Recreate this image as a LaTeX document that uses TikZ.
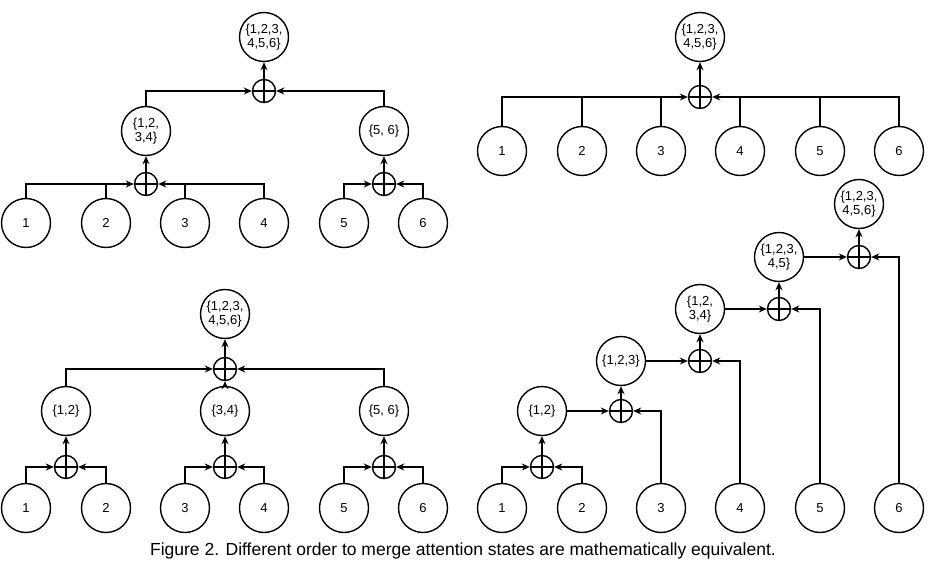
\documentclass[tikz,border=0pt]{standalone}
\usepackage{fontspec}
\setmainfont{Liberation Sans}
\usetikzlibrary{arrows.meta}
\begin{document}
\begin{tikzpicture}[x=1pt,y=-1pt,
  st/.style={circle,draw,line width=1.4pt,minimum size=49pt,inner sep=0pt,align=center,font=\fontsize{13}{14}\selectfont},
  pl/.style={circle,draw,line width=1.4pt,minimum size=23pt,inner sep=0pt,
    path picture={\draw[line width=1.4pt] (path picture bounding box.north)--(path picture bounding box.south) (path picture bounding box.west)--(path picture bounding box.east);}},
  arr/.style={-{Stealth[length=8pt,width=7pt]}},
  every path/.style={line width=1.4pt}]
\useasboundingbox (0,0) rectangle (945,575);
% Top-left
\foreach \n/\x in {1/26,2/106,3/185,4/264,5/344,6/423}{\node[st] (a\n) at (\x,223) {\n};}
\node[pl] (ap1) at (146,184) {};
\node[pl] (ap2) at (384,184) {};
\node[pl] (ap0) at (264,91) {};
\node[st] (a1234) at (146,131) {\{1,2,\\3,4\}};
\node[st] (a56) at (384,131) {\{5, 6\}};
\node[st] (aroot) at (264,37) {\{1,2,3,\\4,5,6\}};
\draw[arr] (a1.north) |- (ap1.west);
\draw[arr] (a4.north) |- (ap1.east);
\draw (a2.north) -- (a2.north |- ap1.center);
\draw (a3.north) -- (a3.north |- ap1.center);
\draw[arr] (a5.north) |- (ap2.west);
\draw[arr] (a6.north) |- (ap2.east);
\draw[arr] (ap1.north) -- (a1234.south);
\draw[arr] (ap2.north) -- (a56.south);
\draw[arr] (a1234.north) |- (ap0.west);
\draw[arr] (a56.north) |- (ap0.east);
\draw[arr] (ap0.north) -- (aroot.south);
% Top-right
\foreach \n/\x in {1/502,2/582,3/661,4/740,5/820,6/899}{\node[st] (b\n) at (\x,151) {\n};}
\node[pl] (bp) at (700,97) {};
\node[st] (broot) at (700,37) {\{1,2,3,\\4,5,6\}};
\draw[arr] (b1.north) |- (bp.west);
\draw[arr] (b6.north) |- (bp.east);
\foreach \n in {2,3,4,5}{\draw (b\n.north) -- (b\n.north |- bp.center);}
\draw[arr] (bp.north) -- (broot.south);
% Bottom-left
\foreach \n/\x in {1/26,2/106,3/185,4/264,5/344,6/423}{\node[st] (c\n) at (\x,508) {\n};}
\node[pl] (cp1) at (66,467) {};
\node[pl] (cp2) at (225,467) {};
\node[pl] (cp3) at (384,467) {};
\node[st] (c12) at (66,411) {\{1,2\}};
\node[st] (c34) at (225,411) {\{3,4\}};
\node[st] (c56) at (384,411) {\{5, 6\}};
\node[pl] (cp0) at (225,369) {};
\node[st] (croot) at (225,314) {\{1,2,3,\\4,5,6\}};
\draw[arr] (c1.north) |- (cp1.west);
\draw[arr] (c2.north) |- (cp1.east);
\draw[arr] (c3.north) |- (cp2.west);
\draw[arr] (c4.north) |- (cp2.east);
\draw[arr] (c5.north) |- (cp3.west);
\draw[arr] (c6.north) |- (cp3.east);
\draw[arr] (cp1.north) -- (c12.south);
\draw[arr] (cp2.north) -- (c34.south);
\draw[arr] (cp3.north) -- (c56.south);
\draw[arr] (c12.north) |- (cp0.west);
\draw[arr] (c56.north) |- (cp0.east);
\draw[arr] (c34.north) -- (cp0.south);
\draw[arr] (cp0.north) -- (croot.south);
% Bottom-right chain
\foreach \n/\x in {1/502,2/582,3/661,4/740,5/820,6/899}{\node[st] (d\n) at (\x,508) {\n};}
\node[pl] (dp0) at (542,467) {};
\node[st] (d12) at (542,411) {\{1,2\}};
\node[pl] (dp1) at (621,411) {};
\node[st] (d123) at (621,361) {\{1,2,3\}};
\node[pl] (dp2) at (700,361) {};
\node[st] (d1234) at (700,309) {\{1,2,\\3,4\}};
\node[pl] (dp3) at (779,309) {};
\node[st] (d12345) at (779,257) {\{1,2,3,\\4,5\}};
\node[pl] (dp4) at (859,257) {};
\node[st] (droot) at (859,204) {\{1,2,3,\\4,5,6\}};
\draw[arr] (d1.north) |- (dp0.west);
\draw[arr] (d2.north) |- (dp0.east);
\draw[arr] (dp0.north) -- (d12.south);
\draw[arr] (d12.east) -- (dp1.west);
\draw[arr] (d3.north) |- (dp1.east);
\draw[arr] (dp1.north) -- (d123.south);
\draw[arr] (d123.east) -- (dp2.west);
\draw[arr] (d4.north) |- (dp2.east);
\draw[arr] (dp2.north) -- (d1234.south);
\draw[arr] (d1234.east) -- (dp3.west);
\draw[arr] (d5.north) |- (dp3.east);
\draw[arr] (dp3.north) -- (d12345.south);
\draw[arr] (d12345.east) -- (dp4.west);
\draw[arr] (d6.north) |- (dp4.east);
\draw[arr] (dp4.north) -- (droot.south);
\node[font=\fontsize{17.5}{19}\selectfont] (cap) at (463,551) {Figure 2. Different order to merge attention states are mathematically equivalent.};
\end{tikzpicture}
\end{document}
